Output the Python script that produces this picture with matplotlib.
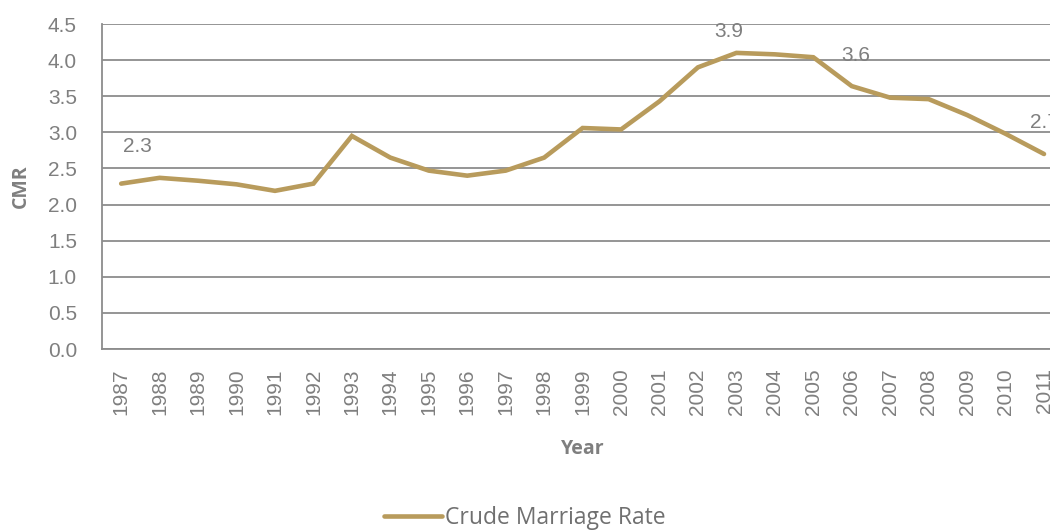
"""
Crude marriage rate by year, line chart with a few value labels.
"""

import matplotlib
matplotlib.use('Agg')
import matplotlib.pyplot as plt

####################
years = [str(y) for y in range(1987, 2012)]
cmr = [2.29, 2.37, 2.33, 2.28, 2.19, 2.29, 2.95, 2.65, 2.47, 2.40,
       2.47, 2.65, 3.06, 3.04, 3.43, 3.90, 4.10, 4.08, 4.04, 3.64,
       3.48, 3.46, 3.24, 2.98, 2.70]
labelled_years = ['1987', '2002', '2006', '2011']
yticks = [0.0, 0.5, 1.0, 1.5, 2.0, 2.5, 3.0, 3.5, 4.0, 4.5]
series_name = 'Crude Marriage Rate'
####################

line_color = '#B89B5C'
grid_color = '#8C8C8C'
text_color = '#7F7F7F'

fig = plt.figure(figsize=(10.5, 5.3), dpi=100)
# the right edge of the plot area is cut off in the original
ax = fig.add_axes([0.0971, 0.3415, 0.9155, 0.6132])

x = range(len(years))
ax.plot(x, cmr, color=line_color, lw=3.3, solid_joinstyle='miter',
        solid_capstyle='round', label=series_name)

# value labels, offsets in points from the data point
offsets = {'1987': (12, 27), '2002': (22, 26), '2006': (3, 22), '2011': (0, 23)}
for yr in labelled_years:
    i = years.index(yr)
    ax.annotate('%.1f' % cmr[i], (i, cmr[i]), xytext=offsets[yr],
                textcoords='offset points', ha='center', va='center',
                fontsize=15, color=text_color, family='Liberation Sans',
                annotation_clip=False)

ax.set_xlim(-0.5, len(years) - 0.5)
ax.set_ylim(0, 4.5)
ax.set_yticks(yticks)
ax.set_yticklabels(['%.1f' % v for v in yticks])
ax.set_xticks(list(x))
ax.set_xticklabels(years, rotation=90)
ax.tick_params(axis='both', length=0, labelsize=15, labelcolor=text_color)
ax.tick_params(axis='y', pad=18)
ax.tick_params(axis='x', pad=14)
for lab in ax.get_xticklabels() + ax.get_yticklabels():
    lab.set_family('Liberation Sans')

ax.grid(axis='y', color=grid_color, lw=1.3)
ax.set_axisbelow(True)
for side in ['top', 'right']:
    ax.spines[side].set_visible(False)
for side in ['left', 'bottom']:
    ax.spines[side].set_color(grid_color)
    ax.spines[side].set_linewidth(1.3)

ax.set_ylabel('CMR', fontsize=14, fontweight='bold', color=text_color,
              family='Open Sans', labelpad=12)
ax.set_xlabel('Year', fontsize=14, fontweight='bold', color=text_color,
              family='Open Sans', labelpad=17)

fig.legend(loc='center', bbox_to_anchor=(0.5, 0.022), frameon=False,
           handlelength=2.5, handletextpad=0.15,
           prop={'family': 'Open Sans', 'size': 16.5}, labelcolor='#707070')

fig.savefig('out.png', dpi=100)
